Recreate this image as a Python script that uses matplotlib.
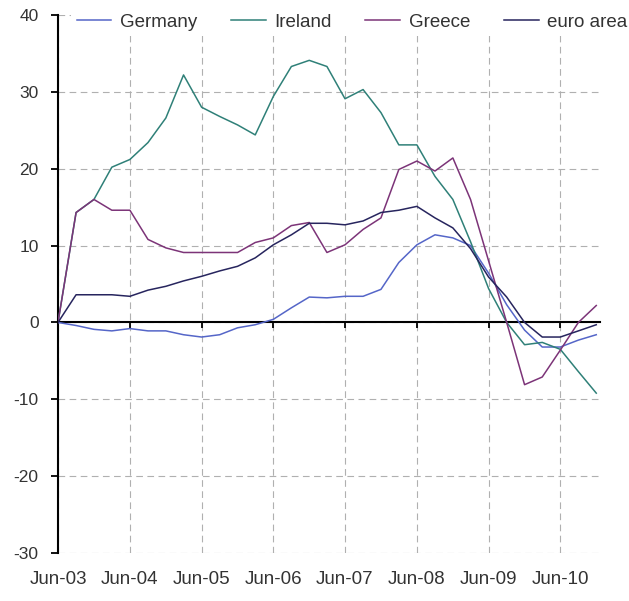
import numpy as np
import pandas as pd
import matplotlib
matplotlib.use("Agg")
import matplotlib.pyplot as plt
import matplotlib.dates as mdates

plt.rcParams['font.family'] = ['Liberation Sans', 'DejaVu Sans']
plt.rcParams['axes.unicode_minus'] = False

# quarterly, Jun-03 .. Dec-10
dates = pd.date_range('2003-06-01', '2010-12-01', freq='3MS')

germany = [0, -0.4, -0.9, -1.1, -0.8, -1.1, -1.1, -1.6, -1.9, -1.6, -0.7, -0.3, 0.4, 1.9, 3.3, 3.2,
           3.4, 3.4, 4.3, 7.8, 10.1, 11.4, 11.0, 10.0, 6.4, 2.3, -1.0, -3.2, -3.2, -2.3, -1.6]
ireland = [0, 14.3, 16.0, 20.2, 21.2, 23.4, 26.6, 32.2, 28.0, 26.8, 25.7, 24.4, 29.4, 33.3, 34.1, 33.3,
           29.1, 30.3, 27.3, 23.1, 23.1, 19.0, 16.0, 10.5, 4.4, 0.0, -2.9, -2.6, -3.5, -6.4, -9.2]
greece = [0, 14.3, 16.0, 14.6, 14.6, 10.8, 9.7, 9.1, 9.1, 9.1, 9.1, 10.4, 11.0, 12.6, 13.0, 9.1,
          10.1, 12.1, 13.6, 19.9, 21.0, 19.7, 21.4, 16.0, 8.0, 0.0, -8.1, -7.1, -3.6, 0.0, 2.2]
euro_area = [0, 3.6, 3.6, 3.6, 3.4, 4.2, 4.7, 5.4, 6.0, 6.7, 7.3, 8.4, 10.1, 11.4, 12.9, 12.9,
             12.7, 13.2, 14.3, 14.6, 15.1, 13.6, 12.3, 9.6, 5.9, 3.3, 0.0, -1.9, -1.9, -1.1, -0.3]

series = ['Germany', 'Ireland', 'Greece', 'euro area']
colors = ['#5566c8', '#2f8078', '#7c3478', '#27255e']
text_col = '#333333'

fig = plt.figure(figsize=(6.29, 6.01), dpi=100)
ax = fig.add_axes([58/629, 1 - 553/601, 542/629, 538/601])

for name, vals, c in zip(series, [germany, ireland, greece, euro_area], colors):
    ax.plot(dates, vals, color=c, lw=1.1, label=name, zorder=3)

ax.set_ylim(-30, 40)
ax.set_yticks(np.arange(-30, 41, 10))
ax.set_xlim(pd.Timestamp('2003-06-01'), pd.Timestamp('2010-12-20'))
ax.xaxis.set_major_locator(mdates.MonthLocator(bymonth=6))
ax.xaxis.set_major_formatter(mdates.DateFormatter('%b-%y'))

ax.grid(True, color='#b0b0b0', lw=0.8, linestyle=(0, (6, 4)), zorder=0)

for s in ['top', 'right']:
    ax.spines[s].set_visible(False)
ax.spines['left'].set_linewidth(1.5)
ax.spines['bottom'].set_position(('data', 0))
ax.spines['bottom'].set_linewidth(1.5)
ax.tick_params(axis='x', direction='out', length=4, width=1.3, labelbottom=False)
ax.tick_params(axis='y', direction='out', length=5, width=1.3, pad=9,
               labelsize=12.5, labelcolor=text_col)

# date labels sit under the plot, tick marks stay on the zero line
sec = ax.secondary_xaxis('bottom')
sec.xaxis.set_major_locator(mdates.MonthLocator(bymonth=6))
sec.xaxis.set_major_formatter(mdates.DateFormatter('%b-%y'))
sec.spines['bottom'].set_visible(False)
sec.tick_params(axis='x', length=0, pad=13, labelsize=13.5, labelcolor=text_col)

leg = fig.legend(loc='center left', bbox_to_anchor=(71/629, 1 - 22/601), ncol=4,
                 fontsize=13.5, handlelength=1.85, handletextpad=0.46, columnspacing=1.8,
                 borderpad=0.3, borderaxespad=0, fancybox=False, framealpha=1,
                 facecolor='white', edgecolor='none')
for t in leg.get_texts():
    t.set_color(text_col)

fig.savefig('out.png', dpi=100)
